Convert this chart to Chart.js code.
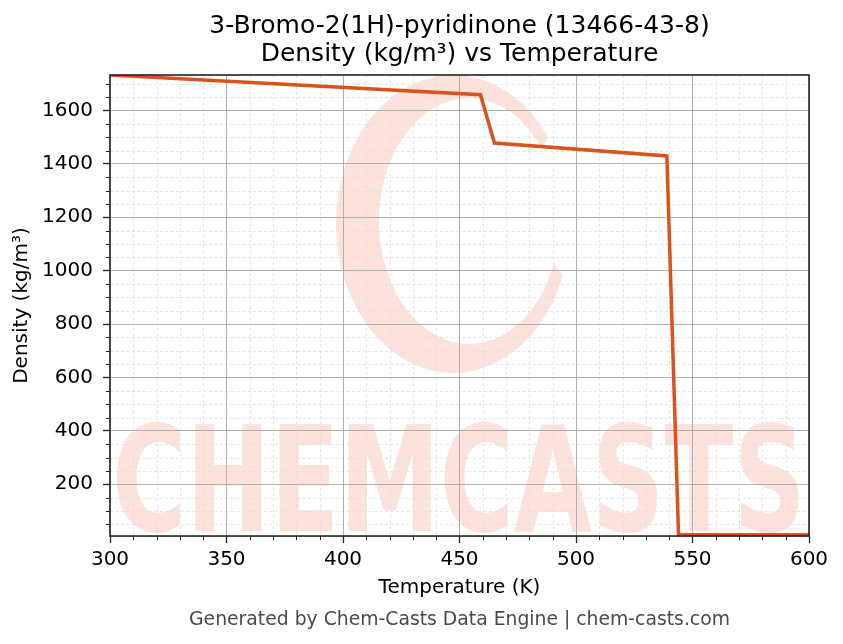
<!DOCTYPE html>
<html>
<head>
<meta charset="utf-8">
<title>3-Bromo-2(1H)-pyridinone density</title>
<script src="https://cdn.jsdelivr.net/npm/chart.js@4.4.1/dist/chart.umd.min.js"></script>
<style>
  html, body { margin: 0; padding: 0; background: #fff; }
</style>
</head>
<body>
<canvas id="chart" width="843" height="644"></canvas>
<script>
// ── Data ─────────────────────────────────────────────────────────────
const TEMPERATURE = [300, 459, 465, 539, 544, 600];
const DENSITY     = [1733, 1659, 1478, 1430, 12, 11];

const X_TICKS = [300, 350, 400, 450, 500, 550, 600];
const Y_TICKS = [200, 400, 600, 800, 1000, 1200, 1400, 1600];
const X_RANGE = [300, 600];
const Y_RANGE = [6, 1733];
const X_MINOR_STEP = 10;
const Y_MINOR_STEP = 50;

const FONT = "'DejaVu Sans', sans-serif";
const LINE_COLOR = '#d9531e';

// ── Watermark, minor grid, frame ─────────────────────────────────────

function drawWatermark(ctx, a) {
  ctx.fillStyle = '#fde2db';
  // swoosh "C"
  const s0 = 0.35, s1 = Math.PI * 2 - 0.62;
  ctx.beginPath();
  ctx.ellipse(453, 224, 117, 149, 0, s0, s1, false);
  ctx.ellipse(469, 221, 90, 123, 0, s1, s0, true);
  ctx.closePath();
  ctx.fill();

  // wordmark
  ctx.save();
  ctx.font = 'bold 146px ' + FONT;
  ctx.textBaseline = 'alphabetic';
  const w = ctx.measureText('CHEMCASTS').width;
  ctx.translate(a.left + 2, 531);
  ctx.scale((a.right - a.left - 5) / w, 1);
  ctx.fillText('CHEMCASTS', 0, 0);
  ctx.restore();
}

const decorPlugin = {
  id: 'decor',
  beforeDraw(chart) {
    const { ctx, chartArea: a, scales: { x, y } } = chart;
    ctx.save();
    ctx.beginPath();
    ctx.rect(a.left, a.top, a.right - a.left, a.bottom - a.top);
    ctx.clip();
    drawWatermark(ctx, a);

    ctx.strokeStyle = '#dedede';
    ctx.lineWidth = 0.8;
    ctx.setLineDash([3, 2.5]);
    for (let v = X_RANGE[0]; v <= X_RANGE[1]; v += X_MINOR_STEP) {
      if (X_TICKS.includes(v)) continue;
      const px = Math.round(x.getPixelForValue(v)) + 0.5;
      ctx.beginPath(); ctx.moveTo(px, a.top); ctx.lineTo(px, a.bottom); ctx.stroke();
    }
    for (let v = Y_MINOR_STEP; v <= Y_RANGE[1]; v += Y_MINOR_STEP) {
      if (Y_TICKS.includes(v) || v < Y_RANGE[0]) continue;
      const py = Math.round(y.getPixelForValue(v)) + 0.5;
      ctx.beginPath(); ctx.moveTo(a.left, py); ctx.lineTo(a.right, py); ctx.stroke();
    }
    ctx.restore();
  },
  afterDatasetsDraw(chart) {
    const { ctx, chartArea: a, scales: { x, y } } = chart;
    ctx.save();
    ctx.strokeStyle = '#222';
    ctx.lineWidth = 1;
    // minor tick marks
    for (let v = X_RANGE[0]; v <= X_RANGE[1]; v += X_MINOR_STEP) {
      if (X_TICKS.includes(v)) continue;
      const px = Math.round(x.getPixelForValue(v)) + 0.5;
      ctx.beginPath(); ctx.moveTo(px, a.bottom); ctx.lineTo(px, a.bottom + 4); ctx.stroke();
    }
    for (let v = Y_MINOR_STEP; v <= Y_RANGE[1]; v += Y_MINOR_STEP) {
      if (Y_TICKS.includes(v) || v < Y_RANGE[0]) continue;
      const py = Math.round(y.getPixelForValue(v)) + 0.5;
      ctx.beginPath(); ctx.moveTo(a.left - 4, py); ctx.lineTo(a.left, py); ctx.stroke();
    }
    // axes frame
    ctx.lineWidth = 1.6;
    ctx.strokeRect(a.left, a.top, a.right - a.left, a.bottom - a.top);
    ctx.restore();
  }
};

// ── Chart ────────────────────────────────────────────────────────────

new Chart(document.getElementById('chart'), {
  type: 'line',
  data: {
    datasets: [{
      data: TEMPERATURE.map((t, i) => ({ x: t, y: DENSITY[i] })),
      borderColor: LINE_COLOR,
      borderWidth: 3.5,
      pointRadius: 0,
      tension: 0,
      fill: false,
    }]
  },
  options: {
    responsive: false,
    animation: false,
    layout: { padding: { left: 0, right: 34, top: 0, bottom: 0 } },
    plugins: {
      legend: { display: false },
      tooltip: { enabled: false },
      title: {
        display: true,
        fullSize: false,
        text: ['3-Bromo-2(1H)-pyridinone (13466-43-8)', 'Density (kg/m³) vs Temperature'],
        color: '#000',
        font: { family: FONT, size: 25, weight: 'normal', lineHeight: 1.12 },
        padding: { top: 12, bottom: 7 },
      },
      subtitle: {
        display: true,
        fullSize: false,
        position: 'bottom',
        text: 'Generated by Chem-Casts Data Engine | chem-casts.com',
        color: '#4a4a4a',
        font: { family: FONT, size: 18.8, weight: 'normal', lineHeight: 1.2 },
        padding: { top: 0, bottom: 13 },
      }
    },
    scales: {
      x: {
        type: 'linear',
        min: X_RANGE[0],
        max: X_RANGE[1],
        afterBuildTicks: s => { s.ticks = X_TICKS.map(v => ({ value: v })); },
        afterFit: s => { s.height = 72.4; },
        ticks: { color: '#000', font: { family: FONT, size: 20 }, padding: 5, autoSkip: false, maxRotation: 0,
                 callback: v => String(v) },
        grid: { color: '#b0b0b0', lineWidth: 1, tickColor: '#222', tickLength: 7, tickWidth: 1.3 },
        border: { display: false },
        title: {
          display: true, text: 'Temperature (K)', color: '#000',
          font: { family: FONT, size: 20 }, padding: { top: 0, bottom: 8.4 }
        }
      },
      y: {
        type: 'linear',
        min: Y_RANGE[0],
        max: Y_RANGE[1],
        afterBuildTicks: s => { s.ticks = Y_TICKS.map(v => ({ value: v })); },
        afterFit: s => { s.width = 110; },
        ticks: { color: '#000', font: { family: FONT, size: 20 }, padding: 10, autoSkip: false,
                 callback: v => String(v) },
        grid: { color: '#b0b0b0', lineWidth: 1, tickColor: '#222', tickLength: 7, tickWidth: 1.3 },
        border: { display: false },
        title: {
          display: true, text: 'Density (kg/m³)', color: '#000',
          font: { family: FONT, size: 20 }, padding: { top: 10, bottom: 0 }
        }
      }
    }
  },
  plugins: [decorPlugin]
});
</script>
</body>
</html>
